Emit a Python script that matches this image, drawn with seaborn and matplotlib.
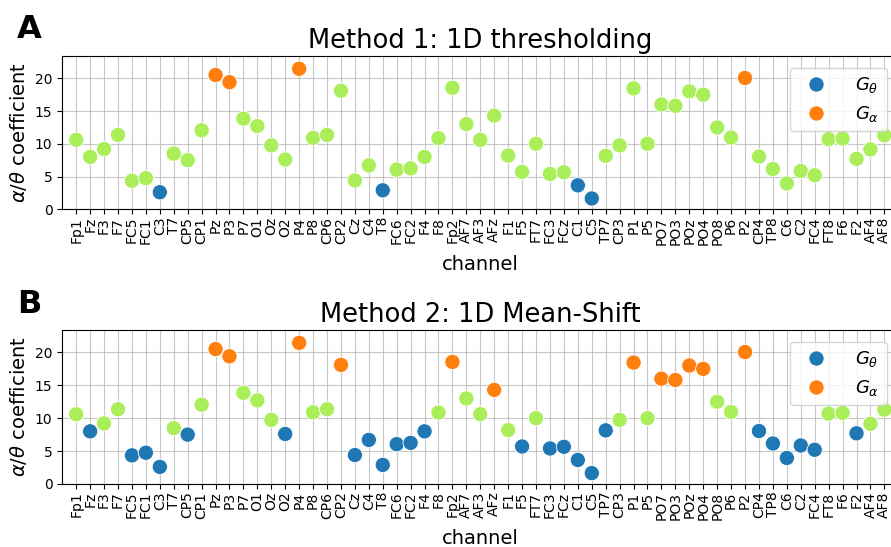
import matplotlib
matplotlib.use("Agg")
import matplotlib.pyplot as plt
import seaborn as sns
import pandas as pd

channels = ["Fp1", "Fz", "F3", "F7", "FC5", "FC1", "C3", "T7", "CP5", "CP1",
            "Pz", "P3", "P7", "O1", "Oz", "O2", "P4", "P8", "CP6", "CP2",
            "Cz", "C4", "T8", "FC6", "FC2", "F4", "F8", "Fp2", "AF7", "AF3",
            "AFz", "F1", "F5", "FT7", "FC3", "FCz", "C1", "C5", "TP7", "CP3",
            "P1", "P5", "PO7", "PO3", "POz", "PO4", "PO8", "P6", "P2", "CP4",
            "TP8", "C6", "C2", "FC4", "FT8", "F6", "F2", "AF4", "AF8"]

values = [10.6, 8.0, 9.2, 11.35, 4.35, 4.75, 2.6, 8.5, 7.5, 12.05,
          20.5, 19.4, 13.85, 12.7, 9.75, 7.6, 21.45, 10.9, 11.35, 18.1,
          4.4, 6.7, 2.9, 6.05, 6.25, 8.0, 10.85, 18.55, 13.0, 10.6,
          14.3, 8.2, 5.7, 10.0, 5.4, 5.65, 3.65, 1.65, 8.15, 9.75,
          18.45, 10.0, 16.0, 15.8, 18.0, 17.5, 12.5, 10.95, 20.05, 8.05,
          6.15, 3.95, 5.85, 5.2, 10.7, 10.8, 7.7, 9.15, 11.3]

# group codes: t = G_theta, a = G_alpha, n = unassigned
groups_m1 = ["n", "n", "n", "n", "n", "n", "t", "n", "n", "n",
             "a", "a", "n", "n", "n", "n", "a", "n", "n", "n",
             "n", "n", "t", "n", "n", "n", "n", "n", "n", "n",
             "n", "n", "n", "n", "n", "n", "t", "t", "n", "n",
             "n", "n", "n", "n", "n", "n", "n", "n", "a", "n",
             "n", "n", "n", "n", "n", "n", "n", "n", "n"]

groups_m2 = ["n", "t", "n", "n", "t", "t", "t", "n", "t", "n",
             "a", "a", "n", "n", "n", "t", "a", "n", "n", "a",
             "t", "t", "t", "t", "t", "t", "n", "a", "n", "n",
             "a", "n", "t", "n", "t", "t", "t", "t", "t", "n",
             "a", "n", "a", "a", "a", "a", "n", "n", "a", "t",
             "t", "t", "t", "t", "n", "n", "t", "n", "n"]

titles = ["Method 1: 1D thresholding", "Method 2: 1D Mean-Shift"]
panel_letters = ["A", "B"]

label_map = {"t": r"$G_\theta$", "a": r"$G_\alpha$", "n": "other"}
palette = {r"$G_\theta$": "#1f77b4", r"$G_\alpha$": "#ff7f0e", "other": "#aaef5a"}
hue_order = [r"$G_\theta$", r"$G_\alpha$", "other"]

plt.rcParams["font.family"] = ["DejaVu Sans"]
fig = plt.figure(figsize=(8.91, 5.47), dpi=100)

W = 0.9383
ax1 = fig.add_axes([0.0699, 0.6174, W, 0.2802])
ax2 = fig.add_axes([0.0699, 0.1152, W, 0.2815])

for ax, grp, title, letter, ly in zip([ax1, ax2], [groups_m1, groups_m2], titles,
                                       panel_letters, [0.9305, 0.4283]):
    df = pd.DataFrame({"channel": channels, "value": values,
                       "group": [label_map[g] for g in grp]})
    ax.set_axisbelow(True)
    ax.grid(True, color="#b0b0b0", linewidth=0.8, alpha=0.7)
    sns.scatterplot(data=df, x="channel", y="value", hue="group",
                    hue_order=hue_order, palette=palette, s=120,
                    edgecolor="white", linewidth=0.6, ax=ax, zorder=3)
    handles, labels = ax.get_legend_handles_labels()
    keep = [(h, l) for h, l in zip(handles, labels) if l in hue_order[:2]]
    ax.legend([k[0] for k in keep], [k[1] for k in keep], loc="upper right",
              fontsize=13, handletextpad=1.2, borderaxespad=0.65,
              markerscale=1.0)
    ax.set_xlim(-1, len(channels))
    ax.set_ylim(0, 23.4)
    ax.set_yticks([0, 5, 10, 15, 20])
    ax.tick_params(axis="x", labelrotation=90, labelsize=10, pad=2)
    ax.tick_params(axis="y", labelsize=10)
    ax.set_xlabel("channel", fontsize=14, labelpad=7)
    ax.set_ylabel(r"$\alpha/\theta$ coefficient", fontsize=14)
    ax.set_title(title, fontsize=18.5)
    fig.text(0.0187, ly, letter, fontsize=23, fontweight="bold")

fig.savefig("out.png", dpi=100)
